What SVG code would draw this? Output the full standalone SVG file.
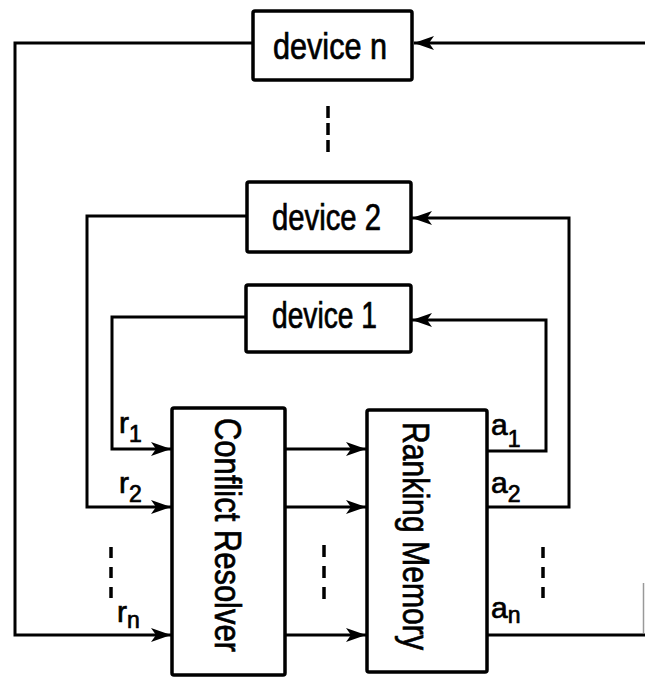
<svg xmlns="http://www.w3.org/2000/svg" width="645" height="680" viewBox="0 0 645 680">
<style>
.box{fill:#fff;stroke:#000;stroke-width:3.5}
.ln{fill:none;stroke:#000;stroke-width:3}
.dash{fill:none;stroke:#000;stroke-width:3.5}
.t{font-family:"Liberation Sans",Arial,sans-serif;fill:#000;stroke:#000;stroke-width:0.7}
.big{font-size:36px}
.lab{font-size:30px}
.sub{font-size:23px}
</style>
<defs>
<marker id="ah" markerWidth="20" markerHeight="14" refX="20" refY="7" orient="auto" markerUnits="userSpaceOnUse">
<path d="M0,0 L20,7 L0,14 L5,7 Z" fill="#000"/>
</marker>
</defs>
<rect width="645" height="680" fill="#fff"/>
<g id="connectors">
<path class="ln" d="M253,43 H15 V635 H171" marker-end="url(#ah)"/>
<path class="ln" d="M645,43 H414" marker-end="url(#ah)"/>
<path class="ln" d="M247,216 H87 V507 H171" marker-end="url(#ah)"/>
<path class="ln" d="M487,507 H569 V218 H412" marker-end="url(#ah)"/>
<path class="ln" d="M246,317 H112 V449 H171" marker-end="url(#ah)"/>
<path class="ln" d="M487,451 H546 V320 H412" marker-end="url(#ah)"/>
<path class="ln" d="M286,449 H366" marker-end="url(#ah)"/>
<path class="ln" d="M286,507 H366" marker-end="url(#ah)"/>
<path class="ln" d="M286,635 H366" marker-end="url(#ah)"/>
<path class="ln" d="M487,635 H645"/>
<path d="M643.5,583 V633" stroke="#999" stroke-width="1.5" fill="none"/>
<path class="dash" d="M328,106 V152" stroke-dasharray="12,5"/>
<path class="dash" d="M111,547 V598" stroke-dasharray="11,9"/>
<path class="dash" d="M324,545 V600" stroke-dasharray="12,9"/>
<path class="dash" d="M543,547 V598" stroke-dasharray="11,9"/>
</g>
<g id="device-n">
<rect class="box" x="253" y="11" width="159" height="69" rx="2"/>
<text class="t big" x="273" y="59" textLength="114" lengthAdjust="spacingAndGlyphs">device n</text>
</g>
<g id="device-2">
<rect class="box" x="247" y="182" width="164" height="70" rx="2"/>
<text class="t big" x="272" y="230" textLength="109" lengthAdjust="spacingAndGlyphs">device 2</text>
</g>
<g id="device-1">
<rect class="box" x="246" y="285" width="165" height="67" rx="2"/>
<text class="t big" x="272" y="328" textLength="105" lengthAdjust="spacingAndGlyphs">device 1</text>
</g>
<g id="conflict-resolver">
<rect class="box" x="172" y="408" width="113" height="267" rx="2"/>
<text class="t big" transform="translate(215,418) rotate(90)" textLength="234" lengthAdjust="spacingAndGlyphs">Conflict Resolver</text>
</g>
<g id="ranking-memory">
<rect class="box" x="367" y="410" width="120" height="262" rx="2"/>
<text class="t big" transform="translate(403,422) rotate(90)" textLength="228" lengthAdjust="spacingAndGlyphs">Ranking Memory</text>
</g>
<g id="labels">
<text class="t" x="119" y="433"><tspan class="lab">r</tspan><tspan class="sub" dy="9">1</tspan></text>
<text class="t" x="119" y="493"><tspan class="lab">r</tspan><tspan class="sub" dy="9">2</tspan></text>
<text class="t" x="117" y="622"><tspan class="lab">r</tspan><tspan class="sub" dy="6">n</tspan></text>
<text class="t" x="491" y="435"><tspan class="lab">a</tspan><tspan class="sub" dy="12">1</tspan></text>
<text class="t" x="491" y="493"><tspan class="lab">a</tspan><tspan class="sub" dy="9">2</tspan></text>
<text class="t" x="491" y="618"><tspan class="lab">a</tspan><tspan class="sub" dy="5">n</tspan></text>
</g>
</svg>
